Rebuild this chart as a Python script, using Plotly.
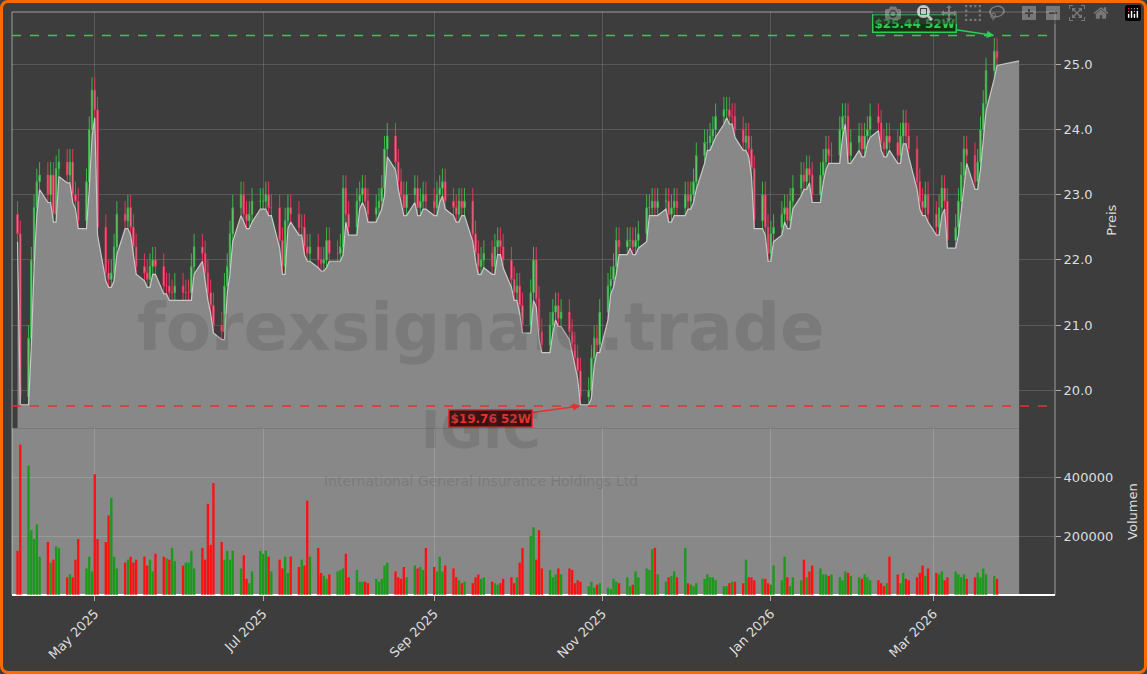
import pandas as pd
import plotly.graph_objects as go
from plotly.subplots import make_subplots

close = [22.4, 19.9, 20.8, 22.0, 22.8, 23.2, 23.3, 23.0, 23.3, 22.7, 23.4, 23.5, 23.3, 23.5, 23.0, 22.9, 22.6, 23.2, 24.0, 24.6,
         24.3, 22.5, 21.8, 21.7, 21.8, 22.2, 22.7, 22.6, 22.8, 22.5, 22.2, 21.9, 21.8, 21.7, 21.9, 22.0, 21.9, 21.6, 21.6, 21.5,
         21.5, 21.6, 21.5, 21.5, 21.5, 21.9, 22.2, 22.1, 21.8, 21.5, 21.3, 21.0, 20.9, 21.6, 21.9, 22.4, 22.8, 23.0, 22.7, 22.6,
         22.7, 22.9, 22.9, 22.9, 23.0, 22.8, 22.8, 22.3, 21.9, 22.6, 22.8, 22.7, 22.5, 22.5, 22.2, 22.1, 22.2, 22.0, 21.95, 22.0,
         22.3, 22.1, 22.1, 22.2, 23.1, 22.7, 22.5, 22.9, 23.0, 23.1, 22.9, 22.7, 22.8, 22.9, 23.1, 23.7, 23.9, 23.5, 23.2, 23.0,
         22.8, 23.0, 23.1, 22.8, 22.9, 23.0, 22.9, 22.8, 23.0, 23.1, 23.2, 22.9, 22.8, 22.7, 22.9, 22.8, 22.9, 22.4, 22.1, 21.9,
         22.0, 22.1, 21.9, 22.2, 22.3, 22.2, 22.0, 21.7, 21.5, 21.6, 21.3, 21.0, 21.5, 22.0, 21.4, 20.9, 20.7, 21.0, 21.2, 21.3,
         21.1, 21.2, 20.9, 20.7, 20.5, 20.3, 19.9, 20.0, 20.5, 20.8, 20.7, 21.2, 21.6, 21.7, 21.9, 22.3, 22.2, 22.3, 22.3, 22.2,
         22.3, 22.4, 22.8, 22.8, 22.9, 22.8, 22.9, 22.9, 22.7, 22.8, 22.9, 22.8, 23.0, 22.9, 23.0, 23.2, 23.6, 23.8, 23.8, 23.9,
         24.0, 24.2, 24.3, 24.3, 24.2, 24.2, 24.0, 23.8, 23.9, 23.7, 23.4, 22.6, 23.0, 22.5, 22.1, 22.4, 22.5, 22.7, 22.8, 22.6,
         22.9, 23.1, 23.3, 23.2, 23.4, 23.3, 23.0, 23.3, 23.5, 23.7, 23.6, 23.6, 24.0, 24.2, 24.2, 23.6, 23.8, 23.9, 23.7, 23.9,
         24.0, 24.2, 24.1, 23.8, 23.7, 23.9, 23.8, 23.6, 23.9, 24.1, 23.9, 23.7, 23.2, 22.9, 22.8, 23.0, 22.7, 22.5, 22.8, 23.1,
         22.9, 22.3, 22.5, 22.9, 23.3, 23.7, 23.6, 23.2, 23.5, 24.0, 24.4, 24.9, 25.2, 25.1]

volume = [150000, 510000, 440000, 220000, 190000, 240000, 130000, 180000, 110000, 120000, 165000, 160000, 60000, 70000, 60000, 120000, 190000, 90000, 130000, 80000,
          410000, 190000, 180000, 270000, 330000, 130000, 90000, 110000, 120000, 130000, 110000, 120000, 130000, 100000, 120000, 80000, 140000, 130000, 125000, 120000,
          160000, 115000, 100000, 110000, 110000, 150000, 90000, 160000, 120000, 310000, 170000, 380000, 180000, 120000, 150000, 120000, 150000, 90000, 135000, 55000,
          40000, 80000, 150000, 140000, 150000, 130000, 80000, 120000, 90000, 130000, 75000, 130000, 95000, 120000, 100000, 320000, 130000, 160000, 75000, 65000,
          55000, 70000, 80000, 85000, 90000, 140000, 60000, 85000, 45000, 45000, 45000, 40000, 55000, 45000, 55000, 100000, 110000, 80000, 60000, 55000,
          95000, 60000, 100000, 90000, 95000, 85000, 160000, 95000, 80000, 130000, 80000, 100000, 90000, 60000, 50000, 40000, 45000, 40000, 60000, 70000,
          55000, 60000, 45000, 40000, 35000, 40000, 55000, 60000, 40000, 60000, 110000, 160000, 200000, 230000, 120000, 220000, 90000, 85000, 60000, 70000,
          90000, 70000, 90000, 85000, 40000, 50000, 45000, 30000, 45000, 25000, 35000, 40000, 25000, 20000, 55000, 45000, 40000, 60000, 30000, 35000,
          80000, 60000, 90000, 85000, 155000, 160000, 70000, 45000, 60000, 65000, 80000, 60000, 160000, 40000, 35000, 30000, 40000, 55000, 70000, 60000,
          60000, 50000, 30000, 30000, 40000, 45000, 45000, 40000, 120000, 60000, 60000, 50000, 55000, 55000, 40000, 35000, 100000, 50000, 130000, 60000,
          30000, 60000, 50000, 120000, 60000, 80000, 100000, 90000, 70000, 70000, 65000, 70000, 60000, 50000, 80000, 75000, 65000, 60000, 55000, 70000,
          60000, 50000, 50000, 40000, 30000, 40000, 130000, 70000, 40000, 75000, 55000, 50000, 60000, 75000, 100000, 65000, 90000, 75000, 70000, 80000,
          50000, 60000, 80000, 70000, 60000, 70000, 55000, 60000, 75000, 60000, 90000, 70000, 65000, 55000]
volume = volume[:len(close)]
while len(volume) < len(close):
    volume.append(60000)

dates = pd.bdate_range("2025-04-03", periods=len(close))
opens = [close[0] + 0.3] + close[:-1]
highs = [max(o, c) + 0.2 for o, c in zip(opens, close)]
lows = [min(o, c) - 0.12 for o, c in zip(opens, close)]
hi52, lo52 = 25.44, 19.76
tick_dates = ["2025-05-01", "2025-07-01", "2025-09-01", "2025-11-01", "2026-01-01", "2026-03-01"]
tick_text = ["May 2025", "Jul 2025", "Sep 2025", "Nov 2025", "Jan 2026", "Mar 2026"]

fig = make_subplots(rows=2, cols=1, shared_xaxes=True, vertical_spacing=0, row_heights=[0.714, 0.286])

area_x = list(dates) + [dates[-1] + pd.Timedelta(days=8)]
area_y = lows + [25.05]
fig.add_trace(go.Scatter(x=area_x, y=area_y, mode="lines", line=dict(color="#c8c8c8", width=1.2),
                         fill="tozeroy", fillcolor="#888888", hoverinfo="skip", showlegend=False), row=1, col=1)
fig.add_trace(go.Candlestick(x=dates, open=opens, high=highs, low=lows, close=close,
                             increasing=dict(line=dict(color="#3cb44b", width=1), fillcolor="#9de0a0"),
                             decreasing=dict(line=dict(color="#e8365d", width=1), fillcolor="#f0a0b4"),
                             whiskerwidth=0, showlegend=False), row=1, col=1)
vcol = ["#1a9a1a" if c >= o else "#ff1010" for o, c in zip(opens, close)]
fig.add_trace(go.Bar(x=dates, y=volume, marker=dict(color=vcol, line=dict(width=0)), showlegend=False), row=2, col=1)

grid = "rgba(255,255,255,0.15)"
xr = ["2025-04-01", "2026-04-14"]
fig.update_layout(
    width=1147, height=674, paper_bgcolor="#3d3d3d", plot_bgcolor="#3d3d3d",
    margin=dict(l=12, r=92, t=12, b=79, autoexpand=False), bargap=0.15,
    font=dict(family="DejaVu Sans", color="#dddddd", size=13),
    xaxis=dict(rangeslider=dict(visible=False), showgrid=True, gridcolor=grid,
               tickvals=tick_dates, ticktext=tick_text, range=xr, showticklabels=False),
    xaxis2=dict(showgrid=True, gridcolor=grid, tickvals=tick_dates, ticktext=tick_text, tickangle=-45,
                range=xr, ticks="outside", tickcolor="#aaaaaa"),
    yaxis=dict(side="right", range=[19.42, 25.8], tickvals=[20, 21, 22, 23, 24, 25], tickformat=".1f",
               gridcolor=grid, title=dict(text="Preis", font=dict(size=13)), ticks="outside", tickcolor="#aaaaaa"),
    yaxis2=dict(side="right", range=[0, 566000], tickvals=[200000, 400000], tickformat="d",
                gridcolor=grid, title=dict(text="Volumen", font=dict(size=13)), ticks="outside", tickcolor="#aaaaaa"),
)
fig.add_shape(type="rect", xref="x2", yref="y2 domain", x0=xr[0], x1=str(area_x[-1].date()), y0=0, y1=1,
              fillcolor="#888888", line=dict(width=0), layer="below")
fig.add_shape(type="rect", xref="paper", yref="paper", x0=0, x1=1, y0=0, y1=1,
              line=dict(color="rgba(255,255,255,0.5)", width=1))
fig.add_shape(type="line", xref="paper", yref="y", x0=0, x1=1, y0=hi52, y1=hi52,
              line=dict(color="#2ecc55", width=1.5, dash="dash"))
fig.add_shape(type="line", xref="paper", yref="y", x0=0, x1=1, y0=lo52, y1=lo52,
              line=dict(color="#e83030", width=1.5, dash="dash"))
fig.add_annotation(x=dates[-2], y=hi52, xref="x", yref="y", text="<b>$25.44 52W</b>", showarrow=True,
                   ax=-80, ay=-12, arrowhead=2, arrowcolor="#2ecc55", arrowwidth=1.5,
                   font=dict(color="#2ecc55", size=12), bgcolor="#113311", bordercolor="#2ecc55", borderwidth=1.5)
fig.add_annotation(x=dates[146], y=lo52, xref="x", yref="y", text="<b>$19.76 52W</b>", showarrow=True,
                   ax=-90, ay=12, arrowhead=2, arrowcolor="#e83030", arrowwidth=1.5,
                   font=dict(color="#e83030", size=12), bgcolor="#3a1111", bordercolor="#e83030", borderwidth=1.5)
fig.add_annotation(xref="paper", yref="paper", x=0.45, y=0.458, text="<b>forexsignale.trade</b>", showarrow=False,
                   font=dict(size=66, color="rgba(60,60,60,0.18)"))
fig.add_annotation(xref="paper", yref="paper", x=0.45, y=0.228, text="<b>IGIC</b>", showarrow=False,
                   font=dict(size=52, color="rgba(60,60,60,0.18)"))
fig.add_annotation(xref="paper", yref="paper", x=0.45, y=0.178, text="International General Insurance Holdings Ltd",
                   showarrow=False, font=dict(size=14, color="rgba(60,60,60,0.2)"))
fig.write_html("out.html", post_script=(
    "document.body.style.margin='0';document.body.style.overflow='hidden';"
    "document.body.style.background='#3d3d3d';"
    "var d=document.createElement('div');d.style.cssText='position:fixed;left:0;top:0;width:1147px;height:674px;"
    "box-sizing:border-box;border:3px solid #ff6a00;border-radius:8px;pointer-events:none;z-index:10';"
    "document.body.appendChild(d);"))
